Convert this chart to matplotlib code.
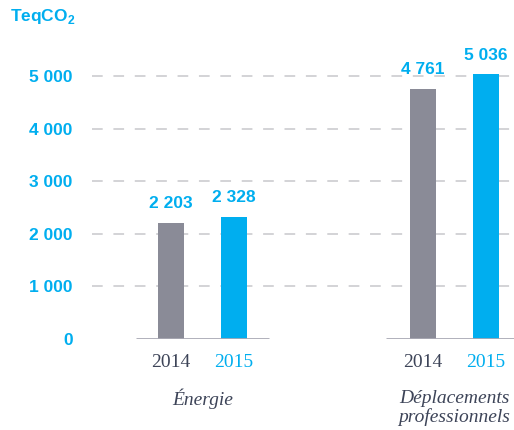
import numpy as np
import matplotlib
matplotlib.use('Agg')
from matplotlib import pyplot as plt
import matplotlib.transforms as mtrans

categories = ['Énergie', 'Déplacements\nprofessionnels']
years = ['2014', '2015']
values_2014 = [2203, 4761]
values_2015 = [2328, 5036]
yticks = [0, 1000, 2000, 3000, 4000, 5000]

BLUE = '#00aeef'
GREY = '#8a8b97'
DARK = '#3d4458'

def fr(v):
    return f'{v:,}'.replace(',', ' ')

fig = plt.figure(figsize=(5.14, 4.30), dpi=100)
ax = fig.add_axes([92/514, 91/430, 422/514, 339/430])

group_x = np.array([0.0, 4.0])
x14 = group_x
x15 = group_x + 1
w = 0.41

ax.bar(x14, values_2014, w, color=GREY, zorder=2)
ax.bar(x15, values_2015, w, color=BLUE, zorder=2)

for x, v in list(zip(x14, values_2014)) + list(zip(x15, values_2015)):
    ax.annotate(fr(v), (x, v), xytext=(0, 8.5), textcoords='offset points',
                ha='center', va='bottom', color=BLUE, fontsize=12.5,
                fontweight='bold', family='Liberation Sans')

# dashed gridlines
for t in yticks[1:]:
    ax.axhline(t, color='#c8c8cc', lw=1.1, ls=(0, (7, 7)), zorder=1)

# baselines under each group
ax.plot([-0.556, 1.556], [0, 0], color='#a9a9b4', lw=2, solid_capstyle='butt', zorder=3)
ax.plot([3.41, 5.5], [0, 0], color='#a9a9b4', lw=2, solid_capstyle='butt', zorder=3)

ax.set_xlim(-1.254, 5.444)
ax.set_ylim(0, 6450)
for s in ax.spines.values():
    s.set_visible(False)

ax.set_yticks(yticks)
ax.set_yticklabels([fr(t) for t in yticks])
ax.tick_params(axis='y', length=0, pad=14, labelcolor=BLUE, labelsize=12.5)
for lab in ax.get_yticklabels():
    lab.set_fontweight('bold')
    lab.set_family('Liberation Sans')

xpos = list(x14) + list(x15)
order = np.argsort(xpos)
ax.set_xticks(np.array(xpos)[order])
xl = (['2014'] * len(x14) + ['2015'] * len(x15))
ax.set_xticklabels(np.array(xl)[order])
ax.tick_params(axis='x', length=0, pad=10.5, labelsize=14)
for lab in ax.get_xticklabels():
    lab.set_family('Liberation Serif')
    lab.set_color(BLUE if lab.get_text() == '2015' else DARK)

trans = mtrans.blended_transform_factory(ax.transData, fig.transFigure)
ax.text(group_x[0] + 0.5, 1 - 399/430, categories[0], transform=trans, ha='center', va='center',
        family='Liberation Serif', style='italic', fontsize=14, color=DARK)
ax.text(group_x[1] + 0.5, 1 - 408/430, categories[1], transform=trans, ha='center', va='center',
        family='Liberation Serif', style='italic', fontsize=14, color=DARK, linespacing=1.15)

fig.text(10/514, 1 - 17/430, r'TeqCO$_\mathregular{2}$', ha='left', va='center', color=BLUE,
         fontsize=12.5, fontweight='bold', family='Liberation Sans')

fig.savefig('out.png', dpi=100)
